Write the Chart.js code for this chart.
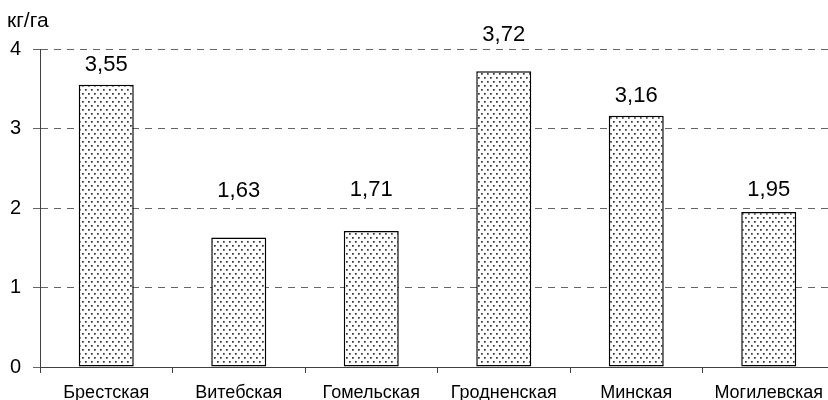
<!DOCTYPE html>
<html lang="ru">
<head>
<meta charset="utf-8">
<title>кг/га по областям</title>
<script src="https://cdn.jsdelivr.net/npm/chart.js@4.4.1/dist/chart.umd.min.js"></script>
<style>
  html, body { margin: 0; padding: 0; background: #fff; overflow: hidden; }
  #wrap { width: 835px; height: 400px; }
</style>
</head>
<body>
<div id="wrap"><canvas id="chart" width="835" height="400"></canvas></div>
<script>
// Области и значения, кг/га
const regions = ['Брестская', 'Витебская', 'Гомельская', 'Гродненская', 'Минская', 'Могилевская'];
const values = [3.55, 1.63, 1.71, 3.72, 3.16, 1.95];
const yTicks = [0, 1, 2, 3, 4];
const unitLabel = 'кг/га';

const FONT = '"Liberation Sans", Arial, sans-serif';

// Dotted fill for the bars
function dotPattern() {
  const c = document.createElement('canvas');
  c.width = 6; c.height = 8;
  const g = c.getContext('2d');
  g.fillStyle = '#ffffff';
  g.fillRect(0, 0, 6, 8);
  g.fillStyle = '#333333';
  g.fillRect(1, 1, 1.7, 1.7);
  g.fillRect(4, 5, 1.7, 1.7);
  return g.createPattern(c, 'repeat');
}

// Value labels above each bar (comma as decimal separator)
const valueLabels = {
  id: 'valueLabels',
  afterDatasetsDraw(chart, args, opts) {
    const ctx = chart.ctx;
    const meta = chart.getDatasetMeta(0);
    ctx.save();
    ctx.font = opts.font;
    ctx.fillStyle = '#000';
    ctx.textAlign = 'center';
    ctx.textBaseline = 'middle';
    meta.data.forEach((bar, i) => {
      const txt = values[i].toFixed(2).replace('.', ',');
      ctx.fillText(txt, bar.x, bar.y - opts.lift[i]);
    });
    ctx.restore();
  }
};

// Unit caption at the top-left corner
const unitCaption = {
  id: 'unitCaption',
  afterDraw(chart, args, opts) {
    const ctx = chart.ctx;
    ctx.save();
    ctx.font = opts.font;
    ctx.fillStyle = '#000';
    ctx.textAlign = 'left';
    ctx.textBaseline = 'alphabetic';
    ctx.fillText(opts.text, opts.x, opts.y);
    ctx.restore();
  }
};

new Chart(document.getElementById('chart'), {
  type: 'bar',
  data: {
    labels: regions,
    datasets: [{
      data: values,
      backgroundColor: dotPattern(),
      borderColor: '#000',
      borderWidth: 1.5,
      borderSkipped: false,
      categoryPercentage: 1,
      barPercentage: 0.415
    }]
  },
  options: {
    responsive: false,
    animation: false,
    devicePixelRatio: 1,
    layout: { padding: { top: 49, right: 0, bottom: 0, left: 0 } },
    plugins: {
      legend: { display: false },
      tooltip: { enabled: false },
      valueLabels: { font: '22px ' + FONT, lift: [20, 46, 41, 36, 20, 22] },
      unitCaption: { text: unitLabel, x: 7, y: 27, font: '21px ' + FONT }
    },
    scales: {
      x: {
        offset: true,
        grid: { display: true, drawOnChartArea: false, offset: true, tickLength: 6, color: '#404040', lineWidth: 1 },
        border: { display: true, color: '#404040', width: 1 },
        ticks: { color: '#000', font: { family: FONT, size: 18 }, padding: 9, maxRotation: 0, autoSkip: false },
        afterFit(scale) { scale.height = 33; }
      },
      y: {
        min: 0,
        max: 4,
        afterBuildTicks(scale) { scale.ticks = yTicks.map(v => ({ value: v })); },
        grid: { color: '#666', lineWidth: 1, tickLength: 7 },
        border: { display: true, color: '#404040', width: 1, dash: [7, 6] },
        ticks: { color: '#000', font: { family: FONT, size: 20 }, padding: 12, callback: v => String(v) },
        afterFit(scale) { scale.width = 40; }
      }
    }
  },
  plugins: [valueLabels, unitCaption]
});
</script>
</body>
</html>
